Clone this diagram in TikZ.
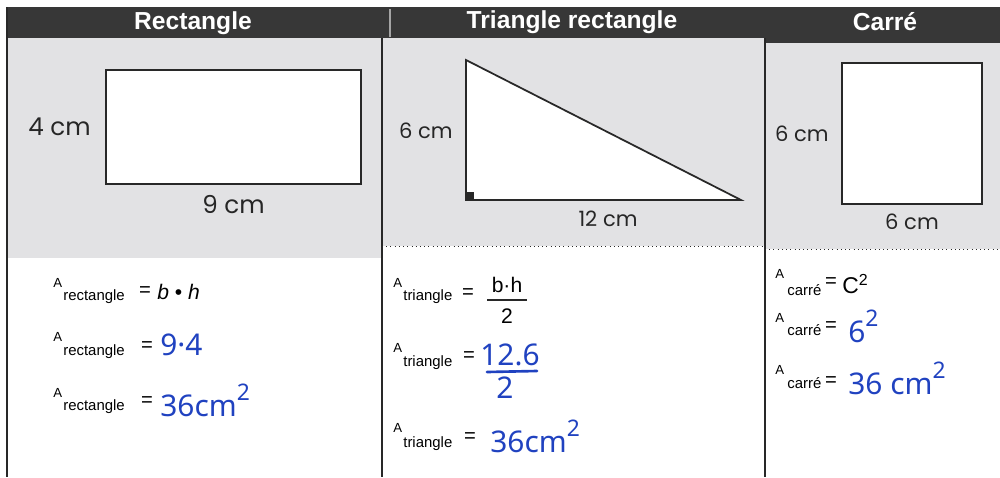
\documentclass[tikz,border=0pt]{standalone}
\usepackage{fontspec}
\setmainfont{Liberation Sans}
\newfontfamily\dimfont{Poppins}
\newfontfamily\handfont{Noto Sans}
\usetikzlibrary{positioning}
\definecolor{hdrdark}{RGB}{55,55,55}
\definecolor{panelgrey}{RGB}{226,226,228}
\definecolor{inkblue}{RGB}{32,66,192}
\definecolor{framegrey}{RGB}{40,40,40}
\tikzset{
  hdrtext/.style={text=white, font=\fontsize{14}{15}\selectfont\bfseries, inner sep=0pt},
  dimlbl/.style={font=\dimfont\fontsize{14}{15}\selectfont, text=black!85, inner sep=0pt},
  smalldim/.style={dimlbl, font=\dimfont\fontsize{12}{13}\selectfont},
  shapeline/.style={draw=framegrey, line width=1.1pt, fill=white, inner sep=0pt},
  areaA/.style={font=\fontsize{7.5}{8}\selectfont, inner sep=0pt, anchor=base west},
  areasub/.style={font=\fontsize{8.5}{9}\selectfont, inner sep=0pt, anchor=base west},
  eqsign/.style={font=\fontsize{11.5}{12}\selectfont, inner sep=0pt},
  formula/.style={font=\fontsize{12}{13}\selectfont, inner sep=0pt},
  handval/.style={text=inkblue, font=\handfont\fontsize{17}{18}\selectfont, inner sep=0pt},
  rule/.style={draw=framegrey, line width=1.1pt}
}
% A with its subscript: name, x of A, baseline of A, x of subscript, baseline of subscript, text
\newcommand{\arealbl}[6]{%
  \node[areaA] (#1A) at (#2,#3) {A};
  \node[areasub] (#1s) at (#4,#5) {#6};
}
\newcommand{\handsq}[1]{#1\raisebox{1.0ex}{\fontsize{13}{13}\selectfont 2}}

\begin{document}
\begin{tikzpicture}[x=0.02cm, y=-0.02cm]
  \useasboundingbox (0,0) rectangle (1000,477);

  % panels and header band
  \fill[panelgrey] (7,38) rectangle (382,258);
  \fill[panelgrey] (382,38) rectangle (765,246);
  \fill[panelgrey] (765,43) rectangle (1000,249);
  \fill[hdrdark] (7,7) rectangle (1000,38);
  \fill[hdrdark] (765,7) rectangle (1000,43);
  \draw[white!55!hdrdark, line width=0.6pt] (390,9) -- (390,37);
  \draw[framegrey, dotted] (382,246) -- (765,246);
  \draw[framegrey, dotted] (765,249) -- (1000,249);

  % column rules
  \draw[rule] (7,7) -- (7,477);
  \draw[rule] (382,38) -- (382,477);
  \draw[rule] (765,38) -- (765,477);

  % headings
  \node[hdrtext] (hrect) at (193,23) {Rectangle};
  \node[hdrtext] (htri) at (572,22) {Triangle rectangle};
  \node[hdrtext] (hsq) at (885,22) {Carré};

  % rectangle
  \node[shapeline, minimum width=5.1cm, minimum height=2.28cm] (rect) at (233.5,127) {};
  \node[dimlbl, left=0.28cm of rect] (recth) {4 cm};
  \node[dimlbl, below=0.2cm of rect] (rectb) {9 cm};

  % right triangle
  \coordinate (tA) at (466,60);
  \coordinate (tB) at (466,200);
  \coordinate (tC) at (741,200);
  \filldraw[fill=white, draw=framegrey, line width=1pt, line join=miter] (tA) -- (tB) -- (tC) -- cycle;
  \fill[framegrey] (tB) rectangle +(8,-8);
  \node[smalldim, anchor=east] (trih) at (453,131) {6 cm};
  \node[smalldim] (trib) at (608,219) {12 cm};

  % square
  \node[shapeline, minimum width=2.8cm, minimum height=2.82cm] (sq) at (912,133.5) {};
  \node[smalldim, left=0.24cm of sq] (sqh) {6 cm};
  \node[smalldim, below=0.18cm of sq] (sqb) {6 cm};

  % rectangle area
  \arealbl{ra}{53}{287}{63}{300}{rectangle}
  \node[eqsign] (raeq) at (145,292) {=};
  \node[formula, anchor=west] (raf) at (157,292) {\textit{b} • \textit{h}};
  \arealbl{rb}{53}{341}{63}{355}{rectangle}
  \node[eqsign] (rbeq) at (147,347) {=};
  \node[handval, anchor=west] (rbv) at (160,345) {9·4};
  \arealbl{rc}{53}{397}{63}{410}{rectangle}
  \node[eqsign] (rceq) at (147,402) {=};
  \node[handval, anchor=west] (rcv) at (160,400) {\handsq{36cm}};

  % triangle area
  \arealbl{ta}{393}{287}{403}{300}{triangle}
  \node[eqsign] (taeq) at (468,294) {=};
  \node[formula] (tanum) at (507,285) {b·h};
  \node[formula] (taden) at (507,316) {2};
  \draw[framegrey, line width=0.6pt] (487,300) -- (527,300);
  \arealbl{tb}{393}{352}{403}{366}{triangle}
  \node[eqsign] (tbeq) at (469,357) {=};
  \node[handval] (tbnum) at (510,355) {12.6};
  \node[handval] (tbden) at (505,388) {2};
  \draw[inkblue, line width=1.5pt, line cap=round] (487,372) -- (537,371);
  \arealbl{tc}{393}{432}{403}{447}{triangle}
  \node[eqsign] (tceq) at (470,438) {=};
  \node[handval, anchor=west] (tcv) at (490,436) {\handsq{36cm}};

  % square area
  \arealbl{sa}{775}{278}{787}{295}{carré}
  \node[eqsign] (saeq) at (831,283) {=};
  \node[formula, anchor=west, font=\fontsize{13}{13}\selectfont] (saf) at (842,284) {C\textsuperscript{2}};
  \arealbl{sb}{775}{322}{787}{335}{carré}
  \node[eqsign] (sbeq) at (831,327) {=};
  \node[handval, anchor=west] (sbv) at (848,326) {\handsq{6}};
  \arealbl{sc}{775}{374}{787}{388}{carré}
  \node[eqsign] (sceq) at (831,382) {=};
  \node[handval, anchor=west] (scv) at (848,378) {\handsq{36 cm}};
\end{tikzpicture}
\end{document}
